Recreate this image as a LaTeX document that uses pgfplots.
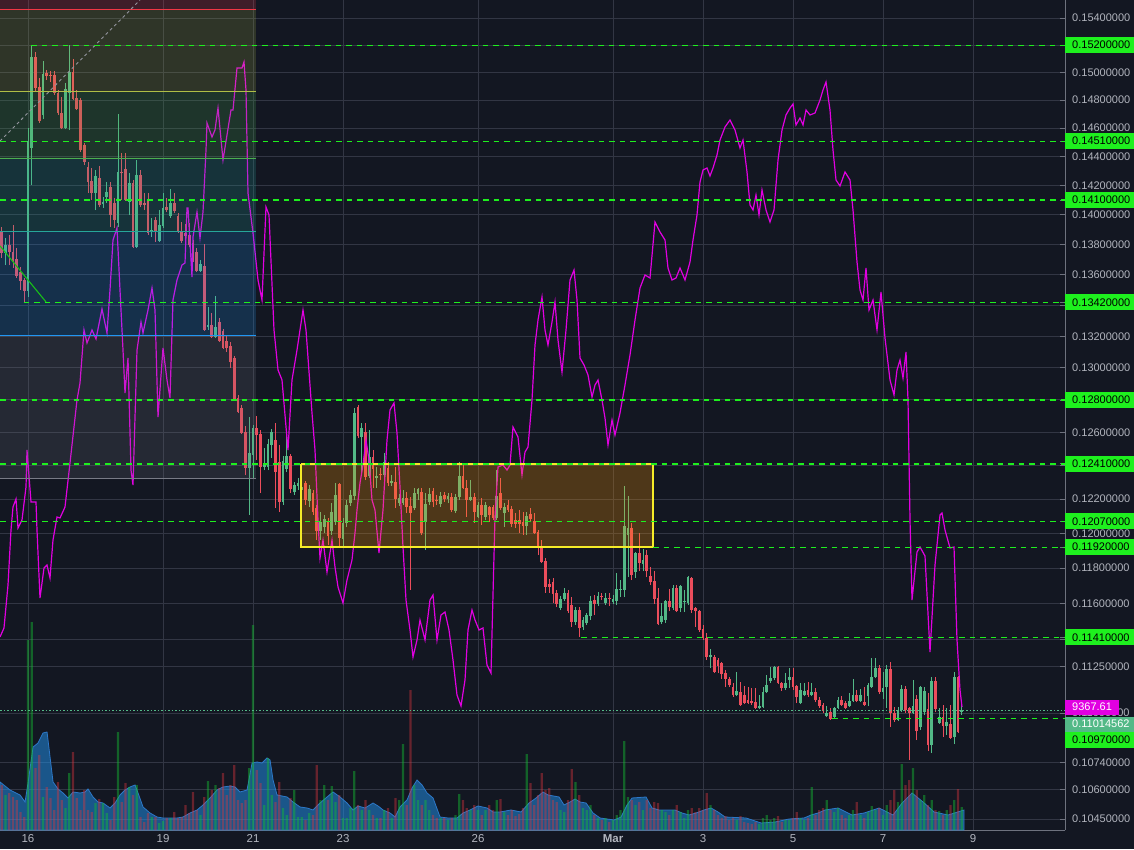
\documentclass[border=0pt]{standalone}
\usepackage{pgfplots}
\pgfplotsset{compat=1.18}
\usepackage{pgfplotstable}
\usepackage{fontspec}
\setmainfont{Liberation Sans}

\definecolor{bg}{RGB}{19,23,34}
\definecolor{gridc}{RGB}{50,54,68}
\definecolor{axisc}{RGB}{110,114,126}
\definecolor{tickc}{RGB}{178,181,190}
\definecolor{upc}{RGB}{83,185,135}
\definecolor{dnc}{RGB}{235,77,92}
\definecolor{vup}{RGB}{20,190,50}
\definecolor{vdn}{RGB}{221,53,61}
\definecolor{areac}{RGB}{33,150,243}
\definecolor{areal}{RGB}{45,120,200}
\definecolor{lvl}{RGB}{30,240,30}
\definecolor{mag}{RGB}{225,0,225}
\definecolor{lastc}{RGB}{83,185,135}
\definecolor{fibr}{RGB}{242,54,69}
\definecolor{fiby}{RGB}{175,190,70}
\definecolor{fibg}{RGB}{76,175,80}
\definecolor{fibt}{RGB}{38,166,154}
\definecolor{fibb}{RGB}{33,150,243}
\definecolor{fibgr}{RGB}{120,123,134}
\definecolor{boxo}{RGB}{255,152,0}
\definecolor{boxy}{RGB}{245,235,40}

\pgfplotsset{
  tvbase/.style={scale only axis, width=1065pt, height=830pt,
    at={(0pt,19pt)}, anchor=south west, xmin=-7.4667, xmax=276.5333},
  tvover/.style={tvbase, hide axis},
  lvlline/.style={lvl, line width=1pt, dash pattern=on 5.5pt off 5pt},
  lvlmain/.style={lvl, line width=1.4pt, dash pattern=on 5.5pt off 5pt},
}

% k = 2h candle index (0 = 16 Feb 00:00), o h l c, u = 1 up / 0 down, v = volume (scaled)
\pgfplotstableread{
k o h l c u v
-7 0.13885 0.13918 0.13710 0.13744 0 45
-6 0.13744 0.13844 0.13664 0.13798 1 35
-5 0.13798 0.13865 0.13664 0.13751 0 37
-4 0.13751 0.13932 0.13644 0.13684 0 33
-3 0.13704 0.13777 0.13578 0.13591 0 30
-2 0.13618 0.13651 0.13500 0.13559 0 18
-1 0.13565 0.13578 0.13422 0.13494 0 13
0 0.13494 0.14601 0.13455 0.14510 1 190
1 0.14461 0.15200 0.14204 0.15112 1 208
2 0.15112 0.15148 0.14859 0.14887 0 62
3 0.14894 0.14959 0.14637 0.14651 0 75
4 0.14694 0.15083 0.14665 0.14988 1 33
5 0.14995 0.15017 0.14945 0.14974 0 43
6 0.14981 0.15010 0.14931 0.14974 0 32
7 0.14981 0.15010 0.14837 0.14851 0 20
8 0.14851 0.14873 0.14694 0.14708 0 48
9 0.14708 0.14823 0.14594 0.14601 0 30
10 0.14601 0.14923 0.14594 0.14880 1 22
11 0.14851 0.15200 0.14587 0.15003 1 57
12 0.15003 0.15097 0.14801 0.14808 0 78
13 0.14816 0.14873 0.14729 0.14736 0 32
14 0.14801 0.14816 0.14433 0.14447 0 20
15 0.14482 0.14496 0.14342 0.14363 0 40
16 0.14328 0.14363 0.14149 0.14224 0 20
17 0.14231 0.14321 0.14101 0.14149 0 18
18 0.14149 0.14307 0.14033 0.14266 1 27
19 0.14252 0.14335 0.14053 0.14067 0 31
20 0.14074 0.14122 0.14047 0.14087 1 27
21 0.14122 0.14224 0.14081 0.14156 1 17
22 0.14190 0.14224 0.13918 0.13999 0 10
23 0.14081 0.14115 0.13911 0.13965 0 33
24 0.13945 0.14701 0.13918 0.14293 1 98
25 0.14293 0.14426 0.14101 0.14286 0 28
26 0.14314 0.14426 0.14094 0.14101 0 47
27 0.14087 0.14286 0.13999 0.14217 1 43
28 0.14217 0.14238 0.13777 0.13784 0 35
29 0.13784 0.14377 0.13777 0.14273 1 45
30 0.14273 0.14307 0.14053 0.14067 0 13
31 0.14081 0.14149 0.14033 0.14067 0 8
32 0.14101 0.14149 0.13865 0.13878 0 17
33 0.13885 0.13979 0.13851 0.13898 1 13
34 0.13965 0.13985 0.13818 0.13885 0 13
35 0.13824 0.14033 0.13818 0.13932 1 7
36 0.13925 0.14149 0.13911 0.14047 1 9
37 0.14053 0.14115 0.14019 0.14033 0 12
38 0.13992 0.14177 0.13979 0.14081 1 12
39 0.14081 0.14149 0.14012 0.14026 0 18
40 0.13992 0.14012 0.13878 0.13885 0 12
41 0.13885 0.13952 0.13811 0.13824 0 13
42 0.13878 0.13938 0.13811 0.13858 0 25
43 0.13865 0.13945 0.13784 0.13798 0 17
44 0.13811 0.13831 0.13684 0.13690 0 38
45 0.13751 0.13777 0.13618 0.13624 0 20
46 0.13624 0.13697 0.13618 0.13671 1 15
47 0.13657 0.13804 0.13235 0.13241 0 33
48 0.13260 0.13390 0.13241 0.13273 1 49
49 0.13273 0.13351 0.13190 0.13196 0 40
50 0.13196 0.13461 0.13190 0.13260 1 45
51 0.13292 0.13318 0.13164 0.13171 0 42
52 0.13235 0.13248 0.13120 0.13126 0 57
53 0.13171 0.13203 0.13101 0.13126 0 35
54 0.13139 0.13164 0.12999 0.13037 0 45
55 0.13063 0.13075 0.12800 0.12806 0 65
56 0.12812 0.12831 0.12719 0.12726 0 30
57 0.12750 0.12769 0.12591 0.12597 0 27
58 0.12603 0.12640 0.12343 0.12385 0 30
59 0.12385 0.12695 0.12107 0.12476 1 62
60 0.12464 0.12646 0.12319 0.12627 1 205
61 0.12627 0.12701 0.12433 0.12585 0 60
62 0.12591 0.12615 0.12236 0.12391 0 47
63 0.12391 0.12506 0.12373 0.12403 1 25
64 0.12391 0.12560 0.12373 0.12530 1 72
65 0.12524 0.12621 0.12445 0.12603 1 35
66 0.12554 0.12658 0.12148 0.12361 0 28
67 0.12421 0.12524 0.12124 0.12183 0 48
68 0.12183 0.12457 0.12166 0.12427 1 22
69 0.12379 0.12615 0.12361 0.12457 1 15
70 0.12457 0.12470 0.12236 0.12260 0 32
71 0.12242 0.12301 0.12225 0.12284 1 40
72 0.12278 0.12325 0.12254 0.12295 1 13
73 0.12254 0.12313 0.12236 0.12272 1 13
74 0.12295 0.12307 0.12166 0.12195 0 10
75 0.12189 0.12284 0.12154 0.12260 1 17
76 0.12236 0.12254 0.12107 0.12124 0 15
77 0.12148 0.12166 0.11961 0.12013 0 65
78 0.12013 0.12124 0.11961 0.12065 1 30
79 0.12036 0.12107 0.12002 0.12083 1 45
80 0.12065 0.12089 0.11932 0.11984 0 30
81 0.12013 0.12177 0.11990 0.12124 1 44
82 0.12065 0.12295 0.12048 0.12225 1 28
83 0.12290 0.12295 0.11920 0.11973 0 35
84 0.11967 0.12089 0.11920 0.12060 1 12
85 0.12060 0.12195 0.12036 0.12166 1 12
86 0.12177 0.12254 0.12160 0.12225 1 22
87 0.12219 0.12750 0.12195 0.12719 1 59
88 0.12757 0.12769 0.12566 0.12578 0 25
89 0.12572 0.12658 0.12343 0.12627 1 20
90 0.12603 0.12658 0.12313 0.12331 0 30
91 0.12337 0.12615 0.12325 0.12451 1 20
92 0.12451 0.12494 0.12266 0.12379 0 15
93 0.12325 0.12391 0.12266 0.12337 1 12
94 0.12349 0.12385 0.12313 0.12343 0 12
95 0.12343 0.12476 0.12325 0.12421 1 20
96 0.12385 0.12421 0.12278 0.12295 0 22
97 0.12295 0.12343 0.12278 0.12307 1 12
98 0.12301 0.12391 0.12148 0.12201 0 32
99 0.12177 0.12231 0.12160 0.12207 1 30
100 0.12177 0.12254 0.12166 0.12207 1 86
101 0.12207 0.12242 0.12118 0.12154 0 25
102 0.12160 0.12213 0.11675 0.12118 0 140
103 0.12148 0.12266 0.12136 0.12236 1 45
104 0.12231 0.12266 0.12195 0.12260 1 30
105 0.12242 0.12266 0.11990 0.12002 0 25
106 0.12065 0.12236 0.11903 0.12171 1 30
107 0.12183 0.12266 0.12166 0.12231 1 20
108 0.12248 0.12266 0.12154 0.12183 0 15
109 0.12195 0.12225 0.12166 0.12189 0 12
110 0.12171 0.12242 0.12154 0.12219 1 12
111 0.12225 0.12242 0.12183 0.12201 0 12
112 0.12201 0.12236 0.12177 0.12219 1 10
113 0.12213 0.12236 0.12124 0.12136 0 12
114 0.12130 0.12231 0.12118 0.12213 1 15
115 0.12213 0.12421 0.12195 0.12337 1 36
116 0.12337 0.12403 0.12260 0.12266 0 30
117 0.12266 0.12313 0.12095 0.12195 0 22
118 0.12195 0.12313 0.12189 0.12213 1 20
119 0.12213 0.12236 0.12060 0.12124 0 25
120 0.12095 0.12183 0.12089 0.12166 1 20
121 0.12166 0.12207 0.12048 0.12107 0 15
122 0.12095 0.12183 0.12077 0.12166 1 20
123 0.12154 0.12160 0.12065 0.12107 0 25
124 0.12154 0.12166 0.12077 0.12089 0 20
125 0.12089 0.12373 0.12077 0.12219 1 30
126 0.12236 0.12325 0.12136 0.12148 0 31
127 0.12118 0.12177 0.12036 0.12154 1 18
128 0.12166 0.12195 0.12124 0.12136 0 15
129 0.12142 0.12160 0.12036 0.12054 0 20
130 0.12077 0.12118 0.12030 0.12054 0 14
131 0.12077 0.12136 0.12002 0.12054 0 16
132 0.12065 0.12124 0.11990 0.12042 0 22
133 0.12042 0.12124 0.11990 0.12101 1 76
134 0.12113 0.12148 0.12065 0.12083 0 47
135 0.12071 0.12118 0.11996 0.12002 0 25
136 0.12007 0.12019 0.11874 0.11915 0 35
137 0.11915 0.11961 0.11828 0.11834 0 57
138 0.11839 0.11857 0.11658 0.11692 0 40
139 0.11709 0.11737 0.11658 0.11692 0 42
140 0.11720 0.11743 0.11601 0.11652 0 30
141 0.11658 0.11675 0.11579 0.11596 0 28
142 0.11573 0.11641 0.11562 0.11624 1 20
143 0.11624 0.11686 0.11612 0.11658 1 18
144 0.11658 0.11675 0.11545 0.11556 0 30
145 0.11590 0.11635 0.11468 0.11495 0 61
146 0.11495 0.11579 0.11479 0.11562 1 48
147 0.11562 0.11579 0.11412 0.11462 0 35
148 0.11468 0.11523 0.11451 0.11506 1 22
149 0.11490 0.11545 0.11479 0.11534 1 20
150 0.11528 0.11641 0.11506 0.11612 1 25
151 0.11618 0.11647 0.11534 0.11596 0 15
152 0.11596 0.11664 0.11585 0.11641 1 12
153 0.11641 0.11658 0.11618 0.11635 0 10
154 0.11601 0.11658 0.11590 0.11629 1 12
155 0.11629 0.11658 0.11585 0.11624 0 8
156 0.11607 0.11647 0.11596 0.11624 1 10
157 0.11612 0.11771 0.11590 0.11680 1 15
158 0.11675 0.11731 0.11635 0.11680 1 20
159 0.11675 0.12278 0.11635 0.12042 1 89
160 0.11990 0.12219 0.11748 0.12030 1 33
161 0.12030 0.12060 0.11731 0.11760 0 30
162 0.11777 0.11892 0.11743 0.11886 1 25
163 0.11886 0.12002 0.11782 0.11828 0 28
164 0.11822 0.11909 0.11782 0.11845 1 20
165 0.11874 0.11903 0.11748 0.11782 0 30
166 0.11754 0.11805 0.11703 0.11720 0 22
167 0.11726 0.11782 0.11596 0.11624 0 28
168 0.11629 0.11686 0.11479 0.11484 0 27
169 0.11495 0.11601 0.11484 0.11528 1 20
170 0.11506 0.11618 0.11490 0.11612 1 18
171 0.11612 0.11680 0.11556 0.11579 0 15
172 0.11573 0.11703 0.11562 0.11686 1 20
173 0.11686 0.11703 0.11551 0.11556 0 25
174 0.11573 0.11703 0.11551 0.11697 1 18
175 0.11607 0.11675 0.11551 0.11612 1 12
176 0.11601 0.11754 0.11590 0.11748 1 20
177 0.11743 0.11748 0.11545 0.11562 0 22
178 0.11573 0.11579 0.11468 0.11556 0 18
179 0.11556 0.11562 0.11440 0.11451 0 22
180 0.11457 0.11479 0.11395 0.11406 0 20
181 0.11406 0.11434 0.11286 0.11302 0 37
182 0.11302 0.11346 0.11242 0.11313 1 25
183 0.11302 0.11313 0.11215 0.11220 0 20
184 0.11286 0.11297 0.11215 0.11253 0 15
185 0.11269 0.11275 0.11182 0.11209 0 12
186 0.11215 0.11231 0.11139 0.11182 0 14
187 0.11182 0.11193 0.11139 0.11150 0 10
188 0.11139 0.11161 0.11085 0.11096 0 12
189 0.11096 0.11220 0.11091 0.11118 1 10
190 0.11112 0.11166 0.11037 0.11043 0 14
191 0.11096 0.11145 0.11048 0.11053 0 8
192 0.11069 0.11139 0.11048 0.11053 0 7
193 0.11064 0.11134 0.11043 0.11053 0 6
194 0.11058 0.11134 0.11021 0.11027 0 8
195 0.11027 0.11096 0.11021 0.11037 1 6
196 0.11032 0.11139 0.11027 0.11112 1 12
197 0.11112 0.11204 0.11107 0.11150 1 15
198 0.11172 0.11248 0.11161 0.11188 1 10
199 0.11188 0.11253 0.11177 0.11248 1 12
200 0.11248 0.11253 0.11156 0.11161 0 14
201 0.11161 0.11166 0.11118 0.11134 0 8
202 0.11134 0.11215 0.11123 0.11161 1 10
203 0.11177 0.11242 0.11134 0.11193 1 10
204 0.11193 0.11242 0.11123 0.11139 0 12
205 0.11145 0.11150 0.11053 0.11085 0 18
206 0.11053 0.11161 0.11048 0.11123 1 12
207 0.11096 0.11161 0.11091 0.11118 1 10
208 0.11123 0.11166 0.11085 0.11096 0 12
209 0.11096 0.11161 0.11091 0.11112 1 43
210 0.11112 0.11134 0.11058 0.11069 0 15
211 0.11069 0.11085 0.11027 0.11037 0 20
212 0.11043 0.11053 0.11000 0.11011 0 22
213 0.10984 0.11037 0.10979 0.11000 1 30
214 0.11005 0.11027 0.10963 0.10968 0 20
215 0.10979 0.11032 0.10974 0.11027 1 18
216 0.11027 0.11085 0.11021 0.11069 1 22
217 0.11069 0.11091 0.11037 0.11043 0 15
218 0.11053 0.11064 0.11021 0.11027 0 12
219 0.11037 0.11107 0.11032 0.11064 1 15
220 0.11064 0.11182 0.11058 0.11096 1 20
221 0.11096 0.11123 0.11058 0.11064 0 28
222 0.11064 0.11128 0.11058 0.11096 1 15
223 0.11058 0.11139 0.11037 0.11043 0 12
224 0.11091 0.11161 0.11037 0.11150 1 18
225 0.11139 0.11297 0.11134 0.11193 1 24
226 0.11193 0.11297 0.11188 0.11242 1 20
227 0.11242 0.11259 0.11101 0.11112 0 22
228 0.11112 0.11220 0.11075 0.11134 1 15
229 0.11139 0.11259 0.11027 0.11237 1 25
230 0.11237 0.11275 0.10926 0.11000 0 30
231 0.11000 0.11032 0.10952 0.10963 0 40
232 0.10963 0.11032 0.10958 0.11016 1 28
233 0.11016 0.11150 0.11005 0.11128 1 66
234 0.11128 0.11145 0.11000 0.11016 0 45
235 0.11027 0.11032 0.10752 0.11000 0 50
236 0.11000 0.11177 0.10995 0.11037 1 62
237 0.11075 0.11096 0.10857 0.10905 0 40
238 0.10926 0.11145 0.10910 0.11139 1 30
239 0.11005 0.11139 0.10989 0.11118 1 35
240 0.11021 0.11107 0.10799 0.10831 0 25
241 0.10831 0.11193 0.10788 0.11172 1 30
242 0.11172 0.11193 0.11005 0.11021 0 20
243 0.10947 0.11027 0.10942 0.10979 1 19
244 0.10979 0.11043 0.10873 0.10931 0 15
245 0.10931 0.11027 0.10884 0.10952 1 20
246 0.10942 0.11043 0.10863 0.10868 0 25
247 0.10873 0.11220 0.10836 0.11193 1 30
248 0.11193 0.11199 0.10894 0.10899 0 41
249 0.11005 0.11069 0.10989 0.11015 1 23
}\candles

% volume moving-average area (same scaled units as v)
\pgfplotstableread{
k v
-7.467 48
-4.8 40
-2.133 35
-0.8 28
0 47
1.333 83
2.667 87
4 97
5.067 98
5.867 73
6.667 48
8 41
9.333 37
10.667 32
12 38
13.867 37
15.2 38
16 41
17.333 33
18.667 28
20 27
21.867 22
23.2 27
24.533 35
25.867 40
27.2 43
28.533 45
29.333 37
30.667 23
32.533 17
34.4 13
36 12
39.733 12
41.333 13
43.2 17
45.067 20
46.667 25
48.533 32
50.4 40
52 43
53.867 44
55.2 43
56.533 38
58.4 40
59.733 67
61.067 68
62.4 67
63.733 72
64.533 70
65.333 50
66.4 35
69.067 33
70.667 28
72.533 23
74.4 22
76 20
77.867 27
79.733 33
81.333 38
83.2 33
85.067 27
86.667 20
88 24
89.867 22
92 27
93.333 24
94.667 20
96.533 17
97.867 13
99.2 23
101.067 30
102.4 42
103.733 50
105.067 45
106.4 37
108 32
109.867 13
112 12
114.4 12
116 17
117.867 20
120 24
122.4 22
124 18
125.867 18
128.8 20
131.467 18
133.6 27
135.467 32
137.333 38
138.667 35
141.6 33
142.933 25
144.533 28
145.867 31
147.2 28
148.8 27
150.667 17
152.533 12
156.267 10
158.133 13
159.733 25
161.067 32
164.8 33
166.4 22
168.267 20
172.533 20
174.4 17
176.267 15
178.133 17
180.267 20
182.133 22
184 18
185.867 13
191.467 12
195.467 7
199.2 8
202.933 11
206.933 12
208.8 15
210.667 17
212.533 20
216 22
219.733 15
222.933 17
226.933 22
230.667 15
233.067 27
235.733 37
238.667 28
241.6 18
245.333 15
249.6 20
}\volarea

\begin{document}
\begin{tikzpicture}
\useasboundingbox (0,0) rectangle (1134pt,849pt);
\fill[bg] (0,0) rectangle (1134pt,849pt);

% ---- axis with grid, price scale and dates
\begin{axis}[tvbase, ymode=log, ymin=0.10394, ymax=0.15535,
  axis x line*=bottom, axis y line*=right,
  axis line style={draw=axisc, line width=1pt, -},
  xtick={0,36,60,84,120,156,180,204,228,252},
  xticklabels={16,19,21,23,26,\textbf{Mar},3,5,7,9},
  xtick style={draw=none},
  xticklabel style={font=\fontsize{11.5}{13}\selectfont, text=tickc, yshift=-1pt},
  ytick={0.154,0.152,0.150,0.148,0.146,0.144,0.142,0.140,0.138,0.136,0.134,0.132,0.130,0.128,0.126,0.124,0.122,0.120,0.118,0.116,0.114,0.1125,0.110,0.1074,0.106,0.1045},
  yticklabels={0.15400000,,0.15000000,0.14800000,0.14600000,0.14400000,0.14200000,0.14000000,0.13800000,0.13600000,,0.13200000,0.13000000,,0.12600000,,0.12200000,0.12000000,0.11800000,0.11600000,,0.11250000,0.11000000,0.10740000,0.10600000,0.10450000},
  yminorticks=false,
  ytick style={draw=axisc, line width=0.8pt},
  tick align=inside, major tick length=5pt,
  grid=major, major grid style={draw=gridc, line width=0.9pt},
  yticklabel style={font=\fontsize{11}{13}\selectfont, text=tickc, anchor=west,
     inner xsep=7pt, inner ysep=0pt, minimum height=16pt, xshift=0pt},
  extra y ticks={0.152,0.1451,0.141,0.1342,0.128,0.1241,0.1207,0.1192,0.1141},
  extra y tick labels={0.15200000,0.14510000,0.14100000,0.13420000,0.12800000,0.12410000,0.12070000,0.11920000,0.11410000},
  extra y tick style={grid=none, yticklabel style={fill=lvl, text=black}},
]
\end{axis}

% ---- volume (down candles' rows are sent far left of the clipped area for the up series, and vice versa)
\begin{axis}[tvover, ymin=0, ymax=830]
\addplot[draw=areal, line width=0.8pt, fill=areac, fill opacity=0.5] table[x=k,y=v]{\volarea} \closedcycle;
\addplot[ybar, bar width=2.2pt, bar shift=0pt, draw=none, fill=vup, fill opacity=0.45]
  table[x expr={\thisrow{u}>0.5 ? \thisrow{k} : -1000}, y=v]{\candles};
\addplot[ybar, bar width=2.2pt, bar shift=0pt, draw=none, fill=vdn, fill opacity=0.42]
  table[x expr={\thisrow{u}<0.5 ? \thisrow{k} : -1000}, y=v]{\candles};
\end{axis}

% ---- candles
\begin{axis}[tvover, ymode=log, ymin=0.10394, ymax=0.15535]
\addplot[draw=none, mark=none,
  error bars/.cd, y dir=plus, y explicit, error mark=none,
  error bar style={draw=upc, line width=1pt}]
  table[x expr={\thisrow{u}>0.5 ? \thisrow{k} : -1000}, y=l, y error plus expr=\thisrow{h}-\thisrow{l}]{\candles};
\addplot[draw=none, mark=none,
  error bars/.cd, y dir=plus, y explicit, error mark=none,
  error bar style={draw=dnc, line width=1pt}]
  table[x expr={\thisrow{u}<0.5 ? \thisrow{k} : -1000}, y=l, y error plus expr=\thisrow{h}-\thisrow{l}]{\candles};
\addplot[draw=none, mark=none,
  error bars/.cd, y dir=plus, y explicit, error mark=none,
  error bar style={draw=upc, line width=2.8pt, line cap=butt}]
  table[x expr={\thisrow{u}>0.5 ? \thisrow{k} : -1000}, y=o, y error plus expr=\thisrow{c}-\thisrow{o}]{\candles};
\addplot[draw=none, mark=none,
  error bars/.cd, y dir=plus, y explicit, error mark=none,
  error bar style={draw=dnc, line width=2.8pt, line cap=butt}]
  table[x expr={\thisrow{u}<0.5 ? \thisrow{k} : -1000}, y=c, y error plus expr=\thisrow{o}-\thisrow{c}]{\candles};
\end{axis}

% ---- compared symbol (magenta)
\begin{axis}[tvover, ymin=9000, ymax=11490]
\addplot[mag, line width=1.2pt, mark=none] table[x=k,y=v]{
k v
-7.467 9579
-6.4 9606
-5.333 9735
-4.533 9900
-4 9969
-3.2 9993
-2.933 9951
-2.667 9906
-1.6 9930
-0.533 10029
-0.267 10140
0.8 9984
2.133 9984
2.4 9900
3.2 9696
4.267 9786
5.067 9795
5.867 9756
6.667 9870
7.733 9939
8.533 9936
9.867 9969
11.2 10101
13.067 10290
13.867 10341
14.933 10500
15.733 10461
17.067 10500
18.133 10473
19.733 10563
21.067 10491
21.867 10620
22.667 10770
23.733 10806
24.533 10620
25.333 10440
25.867 10311
26.667 10416
27.467 10080
28 10035
29.067 10440
30.133 10524
30.667 10491
32 10560
33.067 10626
33.867 10560
34.667 10239
36 10446
37.067 10350
37.867 10296
38.667 10590
39.733 10650
41.067 10695
41.867 10701
42.4 10866
42.667 10866
43.733 10659
44 10779
45.067 10854
45.867 10776
46.667 10854
47.467 11040
47.733 11121
49.067 11079
49.867 11100
50.667 11166
52 11010
54.133 11160
54.667 11160
55.733 11286
57.067 11286
57.6 11304
58.133 11220
58.667 10911
60 10791
61.333 10650
62.4 10590
63.467 10869
64.267 10845
65.6 10500
66.667 10380
67.733 10350
69.333 10140
70.4 10350
71.733 10440
73.333 10560
74.133 10500
75.733 10251
76.533 10140
77.333 9930
77.867 9816
78.667 9870
79.733 9774
81.067 9870
81.867 9789
82.667 9729
84 9681
85.067 9750
86.4 9810
87.2 9891
87.733 9960
88.533 10041
89.333 10095
90.133 10170
90.933 10110
91.733 9990
92.533 9960
93.6 9831
94.667 9960
95.733 10170
96.533 10260
97.6 10281
98.4 10191
99.2 10029
100 9849
100.8 9690
101.867 9600
102.667 9519
103.733 9570
104.533 9630
105.867 9570
107.2 9690
108 9705
109.067 9570
110.133 9645
111.2 9654
112.267 9600
113.333 9510
114.4 9405
115.467 9372
116.533 9450
117.333 9600
118.4 9660
119.2 9630
120.267 9600
121.333 9606
122.4 9495
123.467 9471
124.533 9939
125.333 10089
126.667 10095
127.733 10080
128.533 10095
129.333 10209
130.667 10179
131.733 10065
132.533 10134
133.333 10149
134.4 10290
135.2 10455
136 10530
137.067 10599
137.867 10500
138.667 10455
139.733 10524
140.533 10584
141.333 10470
142.4 10374
143.467 10500
144.533 10650
145.6 10680
146.4 10590
147.2 10416
148.267 10395
149.333 10365
150.4 10299
151.2 10335
152 10350
153.067 10290
153.867 10236
154.667 10155
155.733 10230
156.533 10185
157.867 10251
159.2 10335
160.533 10425
161.867 10530
163.2 10626
164.533 10665
165.867 10656
167.2 10824
168.533 10794
169.867 10770
170.667 10686
171.733 10650
172.8 10656
173.867 10686
175.2 10650
176.533 10704
177.333 10770
178.4 10845
179.2 10944
180 10980
181.067 10986
181.867 10962
182.667 10986
183.733 11025
184.533 11070
185.867 11109
187.2 11130
188.533 11100
189.867 11046
190.667 11070
191.733 10974
192.533 10875
193.333 10860
194.133 10905
194.933 10845
195.733 10920
196.8 10860
197.867 10824
198.933 10860
200 11010
201.067 11100
202.133 11145
203.2 11166
204 11178
204.8 11115
205.867 11136
206.667 11115
207.467 11160
208.533 11145
209.867 11151
211.2 11190
212 11220
212.8 11244
213.867 11160
214.667 11040
215.467 10950
216.533 10932
217.867 10974
219.2 10950
220 10860
221.067 10704
221.867 10620
222.667 10590
223.467 10686
224.267 10560
225.333 10590
226.4 10500
227.467 10614
228.533 10476
229.867 10350
230.933 10305
231.733 10380
232.533 10410
233.333 10356
234.133 10434
234.667 10290
235.2 9930
235.733 9690
237.067 9834
237.867 9849
239.2 9822
240.533 9534
241.867 9795
243.2 9945
243.733 9951
244.533 9900
245.867 9846
246.933 9849
247.733 9570
248.533 9420
249.067 9369
};
\end{axis}

% ---- drawings: fib retracement, range box, levels
\begin{axis}[tvover, ymode=log, ymin=0.10394, ymax=0.15535]
\addplot[draw=none, fill=fibr, fill opacity=0.2] coordinates {(-7.4667,0.1560) (60.8,0.1560) (60.8,0.15467) (-7.4667,0.15467)};
\addplot[draw=none, fill=fiby, fill opacity=0.18] coordinates {(-7.4667,0.15467) (60.8,0.15467) (60.8,0.14865) (-7.4667,0.14865)};
\addplot[draw=none, fill=fibg, fill opacity=0.2] coordinates {(-7.4667,0.14865) (60.8,0.14865) (60.8,0.14384) (-7.4667,0.14384)};
\addplot[draw=none, fill=fibt, fill opacity=0.2] coordinates {(-7.4667,0.14384) (60.8,0.14384) (60.8,0.13891) (-7.4667,0.13891)};
\addplot[draw=none, fill=fibb, fill opacity=0.2] coordinates {(-7.4667,0.13891) (60.8,0.13891) (60.8,0.13203) (-7.4667,0.13203)};
\addplot[draw=none, fill=fibgr, fill opacity=0.18] coordinates {(-7.4667,0.13203) (60.8,0.13203) (60.8,0.12320) (-7.4667,0.12320)};
\addplot[fibr, line width=1pt] coordinates {(-7.4667,0.15467) (60.8,0.15467)};
\addplot[fiby, line width=1pt] coordinates {(-7.4667,0.14865) (60.8,0.14865)};
\addplot[fibg, line width=1pt] coordinates {(-7.4667,0.14384) (60.8,0.14384)};
\addplot[fibt, line width=1pt] coordinates {(-7.4667,0.13891) (60.8,0.13891)};
\addplot[fibb, line width=1pt] coordinates {(-7.4667,0.13203) (60.8,0.13203)};
\addplot[fibgr, line width=1pt] coordinates {(-7.4667,0.12320) (60.8,0.12320)};
\addplot[fibgr!80!white, line width=0.9pt, dash pattern=on 3pt off 3pt] coordinates {(-7.4667,0.14510) (29.87,0.15535)};
\addplot[lvl!80!black, line width=1.1pt] coordinates {(-7.4667,0.13791) (4.8,0.13422)};
% range box
\addplot[draw=boxy, line width=1.4pt, fill=boxo, fill opacity=0.25] coordinates {(72.8,0.12409) (166.67,0.12409) (166.67,0.11920) (72.8,0.11920) (72.8,0.12409)};
% horizontal levels
\addplot[lvlline] coordinates {(0.8,0.152) (277,0.152)};
\addplot[lvlline] coordinates {(-7.4667,0.1451) (277,0.1451)};
\addplot[lvlmain] coordinates {(-7.4667,0.141) (277,0.141)};
\addplot[lvlmain] coordinates {(-1.07,0.1342) (277,0.1342)};
\addplot[lvlmain] coordinates {(-7.4667,0.128) (277,0.128)};
\addplot[lvlmain] coordinates {(-7.4667,0.1241) (277,0.1241)};
\addplot[lvlline] coordinates {(-7.4667,0.1207) (277,0.1207)};
\addplot[lvlline] coordinates {(166.67,0.1192) (277,0.1192)};
\addplot[lvlline] coordinates {(147.5,0.1141) (277,0.1141)};
\addplot[lvlline] coordinates {(214.4,0.1097) (277,0.1097)};
\addplot[lastc, line width=1pt, dash pattern=on 1.5pt off 2pt] coordinates {(-7.4667,0.11014562) (277,0.11014562)};
\end{axis}

% ---- price-scale markers for the last values
\node[fill=mag, text=white, anchor=west, inner xsep=7pt, inner ysep=0pt, minimum height=15pt,
      font=\fontsize{11}{13}\selectfont] at (1065pt,142pt) {9367.61};
\node[fill=lastc, text=white, anchor=west, inner xsep=7pt, inner ysep=0pt, minimum height=15pt,
      font=\fontsize{11}{13}\selectfont] at (1065pt,125pt) {0.11014562};
\node[fill=lvl, text=black, anchor=west, inner xsep=7pt, inner ysep=0pt, minimum height=16pt,
      font=\fontsize{11}{13}\selectfont] at (1065pt,109pt) {0.10970000};
\end{tikzpicture}
\end{document}
